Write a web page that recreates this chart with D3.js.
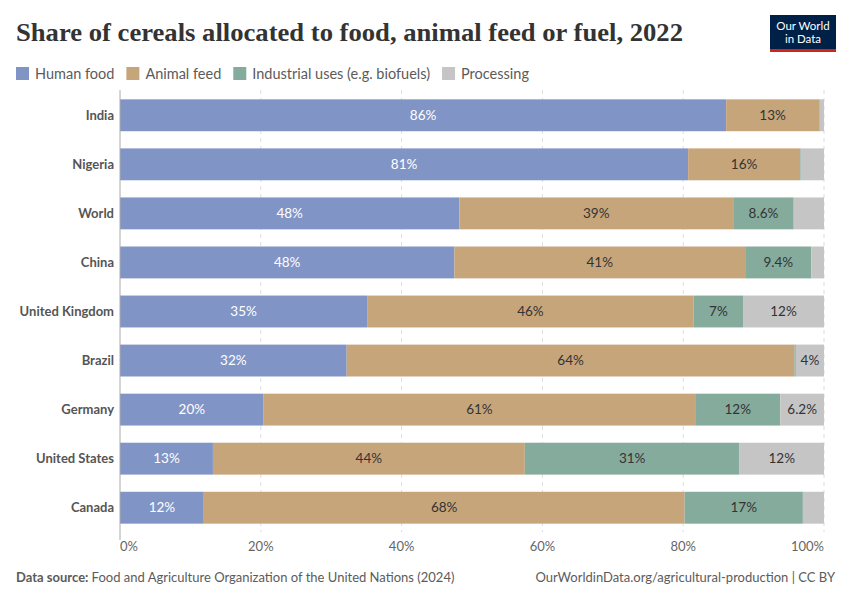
<!DOCTYPE html>
<html>
<head>
<meta charset="utf-8">
<script src="https://cdn.jsdelivr.net/npm/d3@7"></script>
<style>
  body { margin: 0; background: #fff; }
  text { font-family: Lato, "Noto Sans", sans-serif; }
</style>
</head>
<body>
<div id="chart"></div>
<script>
var countries = ["India", "Nigeria", "World", "China", "United Kingdom", "Brazil", "Germany", "United States", "Canada"];
var seriesNames = ["Human food", "Animal feed", "Industrial uses (e.g. biofuels)", "Processing"];
var seriesColors = ["#8194c6", "#c7a57b", "#85ab9d", "#c5c5c5"];

// shares in percent, one array per series, in country order
var humanFood = [86.1, 80.7, 48.2, 47.5, 35.1, 32.2, 20.4, 13.2, 11.9];
var animalFeed = [13.2, 15.9, 38.9, 41.3, 46.4, 63.6, 61.3, 44.3, 68.3];
var industrial = [0.1, 0.1, 8.6, 9.4, 7.0, 0.2, 12.1, 30.5, 16.8];
var processing = [0.6, 3.3, 4.3, 1.8, 11.5, 4.0, 6.2, 12.0, 3.0];
var xTicks = [0, 20, 40, 60, 80, 100];

var width = 850, height = 600;
var margin = { left: 120, right: 26, top: 90, bottom: 60 };

var svg = d3.select("#chart").append("svg")
    .attr("width", width)
    .attr("height", height);

// title
svg.append("text")
    .attr("x", 16)
    .attr("y", 41)
    .attr("textLength", 667)
    .attr("lengthAdjust", "spacingAndGlyphs")
    .style("font-family", "'Liberation Serif', 'DejaVu Serif', serif")
    .style("font-size", "26px")
    .style("font-weight", "bold")
    .attr("fill", "#333")
    .text("Share of cereals allocated to food, animal feed or fuel, 2022");

// logo
var logo = svg.append("g").attr("transform", "translate(770,15)");
logo.append("rect").attr("width", 66).attr("height", 37).attr("fill", "#002147");
logo.append("rect").attr("y", 34).attr("width", 66).attr("height", 3).attr("fill", "#ce261e");
logo.append("text").attr("x", 33).attr("y", 15).attr("text-anchor", "middle")
    .attr("fill", "#fff").style("font-size", "11.5px").text("Our World");
logo.append("text").attr("x", 33).attr("y", 28).attr("text-anchor", "middle")
    .attr("fill", "#fff").style("font-size", "11.5px").text("in Data");

// legend
var legendX = 16;
seriesNames.forEach(function (name, i) {
    var g = svg.append("g").attr("transform", "translate(" + legendX + ",67)");
    g.append("rect").attr("width", 13).attr("height", 13).attr("fill", seriesColors[i]);
    var t = g.append("text").attr("x", 19).attr("y", 11.8)
        .attr("fill", "#5b5b5b").style("font-size", "14.5px").text(name);
    legendX += 19 + t.node().getComputedTextLength() + 12;
});

var x = d3.scaleLinear().domain([0, 100]).range([margin.left, width - margin.right]);
var y = d3.scaleBand().domain(countries).range([margin.top + 1, 532]).paddingInner(0.35).paddingOuter(0.17);

// gridlines
svg.append("g").selectAll("line").data(xTicks.slice(1)).join("line")
    .attr("x1", function (d) { return x(d); })
    .attr("x2", function (d) { return x(d); })
    .attr("y1", margin.top)
    .attr("y2", 532)
    .attr("stroke", "#ddd")
    .attr("stroke-dasharray", "4,4");

// stack
var rows = countries.map(function (c, i) {
    return { country: c, v: [humanFood[i], animalFeed[i], industrial[i], processing[i]] };
});
var keys = [0, 1, 2, 3];
var stack = d3.stack().keys(keys).value(function (d, k) { return d.v[k]; });
var layers = stack(rows);

layers.forEach(function (layer, k) {
    var g = svg.append("g");
    g.selectAll("rect").data(layer).join("rect")
        .attr("x", function (d) { return x(d[0]); })
        .attr("width", function (d) { return Math.max(0, x(d[1]) - x(d[0])); })
        .attr("y", function (d) { return y(d.data.country); })
        .attr("height", y.bandwidth())
        .attr("fill", seriesColors[k]);

    g.selectAll("text").data(layer).join("text")
        .attr("x", function (d) { return (x(d[0]) + x(d[1])) / 2; })
        .attr("y", function (d) { return y(d.data.country) + y.bandwidth() / 2 + 4.5; })
        .attr("text-anchor", "middle")
        .attr("fill", k === 0 ? "#fff" : "#333")
        .style("font-size", "13.5px")
        .text(function (d) {
            var v = d[1] - d[0];
            return (v >= 9.95 ? d3.format(".0f")(v) : d3.format(".2")(v)) + "%";
        })
        .each(function (d) {
            var w = x(d[1]) - x(d[0]);
            if (this.getComputedTextLength() + 8 > w) d3.select(this).remove();
        });
});

// y axis line and labels
svg.append("line")
    .attr("x1", margin.left).attr("x2", margin.left)
    .attr("y1", margin.top).attr("y2", 540)
    .attr("stroke", "#aaa");

svg.append("g").selectAll("text").data(countries).join("text")
    .attr("x", margin.left - 6)
    .attr("y", function (d) { return y(d) + y.bandwidth() / 2 + 4.5; })
    .attr("text-anchor", "end")
    .attr("fill", "#555")
    .style("font-size", "13px")
    .style("font-weight", "bold")
    .text(function (d) { return d; });

// x tick labels
svg.append("g").selectAll("text").data(xTicks).join("text")
    .attr("x", function (d) { return x(d); })
    .attr("y", 551)
    .attr("text-anchor", function (d) { return d === 0 ? "start" : d === 100 ? "end" : "middle"; })
    .attr("fill", "#666")
    .style("font-size", "13px")
    .text(function (d) { return d + "%"; });

// footer
var src = svg.append("text").attr("x", 16).attr("y", 582).attr("fill", "#5b5b5b").style("font-size", "13px");
src.append("tspan").style("font-weight", "bold").text("Data source: ");
src.append("tspan").text("Food and Agriculture Organization of the United Nations (2024)");

svg.append("text").attr("x", 835).attr("y", 582).attr("text-anchor", "end")
    .attr("fill", "#5b5b5b").style("font-size", "13px")
    .text("OurWorldinData.org/agricultural-production | CC BY");
</script>
</body>
</html>
